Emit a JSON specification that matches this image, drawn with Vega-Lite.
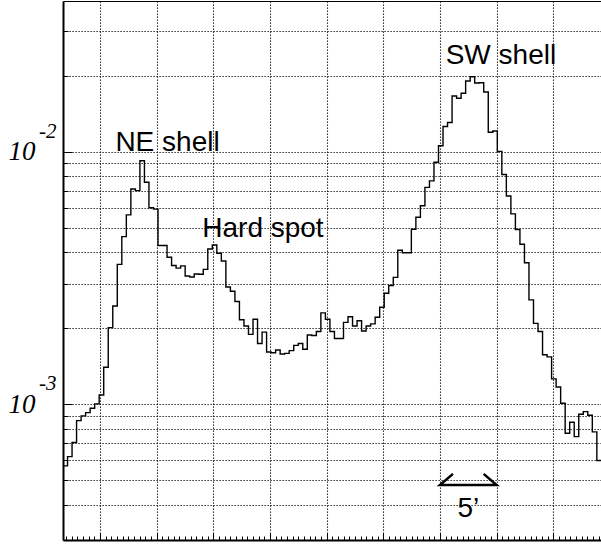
{
  "$schema": "https://vega.github.io/schema/vega-lite/v6.json",
  "width": 538,
  "height": 539,
  "autosize": {"type": "none"},
  "padding": {"left": 63, "top": 1, "right": 0, "bottom": 6},
  "background": "white",
  "config": {
    "view": {"stroke": "black", "strokeWidth": 1},
    "axis": {"gridColor": "black", "gridDash": [1.2, 1.8], "gridWidth": 1.1, "domainColor": "black", "domainWidth": 2, "tickColor": "black", "tickWidth": 1}
  },
  "datasets": {
    "hist": [
      {"bin": 0, "value": 0.00057}, {"bin": 1, "value": 0.00062}, {"bin": 2, "value": 0.000705}, {"bin": 3, "value": 0.000861},
      {"bin": 4, "value": 0.000899}, {"bin": 5, "value": 0.000926}, {"bin": 6, "value": 0.000964}, {"bin": 7, "value": 0.001003},
      {"bin": 8, "value": 0.001088}, {"bin": 9, "value": 0.001401}, {"bin": 10, "value": 0.002011}, {"bin": 11, "value": 0.00245},
      {"bin": 12, "value": 0.00358}, {"bin": 13, "value": 0.00461}, {"bin": 14, "value": 0.00562}, {"bin": 15, "value": 0.00712},
      {"bin": 16, "value": 0.00701}, {"bin": 17, "value": 0.00921}, {"bin": 18, "value": 0.00757}, {"bin": 19, "value": 0.006},
      {"bin": 20, "value": 0.00592}, {"bin": 21, "value": 0.00425}, {"bin": 22, "value": 0.00425}, {"bin": 23, "value": 0.00382},
      {"bin": 24, "value": 0.00354}, {"bin": 25, "value": 0.00346}, {"bin": 26, "value": 0.00353}, {"bin": 27, "value": 0.00322},
      {"bin": 28, "value": 0.00319}, {"bin": 29, "value": 0.00328}, {"bin": 30, "value": 0.00327}, {"bin": 31, "value": 0.00342},
      {"bin": 32, "value": 0.00412}, {"bin": 33, "value": 0.00427}, {"bin": 34, "value": 0.00396}, {"bin": 35, "value": 0.00369},
      {"bin": 36, "value": 0.00291}, {"bin": 37, "value": 0.0028}, {"bin": 38, "value": 0.00255}, {"bin": 39, "value": 0.00216},
      {"bin": 40, "value": 0.00204}, {"bin": 41, "value": 0.00189}, {"bin": 42, "value": 0.00217}, {"bin": 43, "value": 0.00174},
      {"bin": 44, "value": 0.00193}, {"bin": 45, "value": 0.00161}, {"bin": 46, "value": 0.0016}, {"bin": 47, "value": 0.00164},
      {"bin": 48, "value": 0.00158}, {"bin": 49, "value": 0.00159}, {"bin": 50, "value": 0.00163}, {"bin": 51, "value": 0.00171},
      {"bin": 52, "value": 0.00174}, {"bin": 53, "value": 0.00165}, {"bin": 54, "value": 0.00188}, {"bin": 55, "value": 0.00187},
      {"bin": 56, "value": 0.00194}, {"bin": 57, "value": 0.0023}, {"bin": 58, "value": 0.00217}, {"bin": 59, "value": 0.00194},
      {"bin": 60, "value": 0.00182}, {"bin": 61, "value": 0.00182}, {"bin": 62, "value": 0.00211}, {"bin": 63, "value": 0.00222},
      {"bin": 64, "value": 0.00204}, {"bin": 65, "value": 0.00214}, {"bin": 66, "value": 0.00195}, {"bin": 67, "value": 0.00204},
      {"bin": 68, "value": 0.00208}, {"bin": 69, "value": 0.00221}, {"bin": 70, "value": 0.00242}, {"bin": 71, "value": 0.00275},
      {"bin": 72, "value": 0.00295}, {"bin": 73, "value": 0.00318}, {"bin": 74, "value": 0.00407}, {"bin": 75, "value": 0.00398},
      {"bin": 76, "value": 0.00398}, {"bin": 77, "value": 0.00493}, {"bin": 78, "value": 0.0055}, {"bin": 79, "value": 0.00611},
      {"bin": 80, "value": 0.00722}, {"bin": 81, "value": 0.00766}, {"bin": 82, "value": 0.00908}, {"bin": 83, "value": 0.01056},
      {"bin": 84, "value": 0.01258}, {"bin": 85, "value": 0.01305}, {"bin": 86, "value": 0.01662}, {"bin": 87, "value": 0.01627},
      {"bin": 88, "value": 0.01703}, {"bin": 89, "value": 0.01905}, {"bin": 90, "value": 0.01981}, {"bin": 91, "value": 0.0187},
      {"bin": 92, "value": 0.01875}, {"bin": 93, "value": 0.01723}, {"bin": 94, "value": 0.01193}, {"bin": 95, "value": 0.01208},
      {"bin": 96, "value": 0.01003}, {"bin": 97, "value": 0.00812}, {"bin": 98, "value": 0.00668}, {"bin": 99, "value": 0.00567},
      {"bin": 100, "value": 0.00492}, {"bin": 101, "value": 0.0043}, {"bin": 102, "value": 0.00363}, {"bin": 103, "value": 0.00259},
      {"bin": 104, "value": 0.00209}, {"bin": 105, "value": 0.00194}, {"bin": 106, "value": 0.00157}, {"bin": 107, "value": 0.00154},
      {"bin": 108, "value": 0.00126}, {"bin": 109, "value": 0.00117}, {"bin": 110, "value": 0.001009}, {"bin": 111, "value": 0.000768},
      {"bin": 112, "value": 0.000849}, {"bin": 113, "value": 0.000744}, {"bin": 114, "value": 0.000913}, {"bin": 115, "value": 0.000935},
      {"bin": 116, "value": 0.000905}, {"bin": 117, "value": 0.000777}, {"bin": 118, "value": 0.000599}, {"bin": 119, "value": 0.000599}
    ],
    "bar": [
      {"bx": 86.2, "by": 0.00053, "o": 0},
      {"bx": 83.32, "by": 0.000479, "o": 1},
      {"bx": 95.85, "by": 0.000479, "o": 2},
      {"bx": 92.97, "by": 0.00053, "o": 3}
    ],
    "notes": [
      {"label": "NE shell", "nx": 23.1, "ny": 0.0101},
      {"label": "Hard spot", "nx": 44.2, "ny": 0.00461},
      {"label": "SW shell", "nx": 96.8, "ny": 0.02224},
      {"label": "5’", "nx": 89.6, "ny": 0.000359}
    ],
    "exps": [
      {"tick": 0.01, "exp": "-2"},
      {"tick": 0.001, "exp": "-3"}
    ]
  },
  "layer": [
    {
      "data": {"name": "hist"},
      "mark": {"type": "line", "interpolate": "step-after", "color": "black", "strokeWidth": 1.4, "clip": true},
      "encoding": {
        "x": {
          "field": "bin", "type": "quantitative",
          "scale": {"domain": [0, 118.92], "nice": false, "zero": false},
          "axis": {
            "title": null, "labels": false, "orient": "bottom", "tickCount": 500,
            "values": [0.67,1.92,3.17,4.42,5.68,6.93,8.18,9.43,10.68,11.94,13.19,14.44,15.69,16.95,18.2,19.45,20.7,21.96,23.21,24.46,25.71,26.97,28.22,29.47,30.72,31.98,33.23,34.48,35.73,36.99,38.24,39.49,40.74,42.0,43.25,44.5,45.75,47.0,48.26,49.51,50.76,52.01,53.27,54.52,55.77,57.02,58.28,59.53,60.78,62.03,63.29,64.54,65.79,67.04,68.3,69.55,70.8,72.05,73.3,74.56,75.81,77.06,78.31,79.57,80.82,82.07,83.32,84.58,85.83,87.08,88.33,89.59,90.84,92.09,93.34,94.6,95.85,97.1,98.35,99.61,100.86,102.11,103.36,104.62,105.87,107.12,108.37,109.62,110.88,112.13,113.38,114.63,115.89,117.14,118.39],
            "grid": true,
            "gridOpacity": {"condition": {"test": "indexof([8.18,20.7,33.23,45.75,58.28,70.8,83.32,95.85,108.37], datum.value) >= 0", "value": 1}, "value": 0},
            "tickSize": {"condition": {"test": "indexof([8.18,20.7,33.23,45.75,58.28,70.8,83.32,95.85,108.37], datum.value) >= 0", "value": -7}, "value": -4}
          }
        },
        "y": {
          "field": "value", "type": "quantitative",
          "scale": {"type": "log", "domain": [0.00029, 0.0395], "nice": false, "zero": false},
          "axis": {
            "title": null, "orient": "left", "tickCount": 500,
            "values": [0.0004,0.0005,0.0006,0.0007,0.0008,0.0009,0.001,0.002,0.003,0.004,0.005,0.006,0.007,0.008,0.009,0.01,0.02,0.03],
            "grid": true,
            "labelExpr": "datum.value == 0.01 || datum.value == 0.001 ? '10' : ''",
            "labelFont": "Liberation Serif", "labelFontStyle": "italic", "labelFontSize": 27, "labelColor": "black",
            "labelPadding": 37, "labelOverlap": false, "labelBound": false, "labelFlush": false,
            "labelAlign": "right", "labelBaseline": "middle",
            "tickSize": {"condition": {"test": "datum.value == 0.01 || datum.value == 0.001", "value": -9}, "value": -5}
          }
        }
      }
    },
    {
      "data": {"name": "bar"},
      "mark": {"type": "line", "color": "black", "strokeWidth": 2.5, "strokeCap": "butt"},
      "encoding": {
        "x": {"field": "bx", "type": "quantitative", "scale": {"domain": [0, 118.92], "nice": false, "zero": false}},
        "y": {"field": "by", "type": "quantitative", "scale": {"type": "log", "domain": [0.00029, 0.0395], "nice": false, "zero": false}},
        "order": {"field": "o", "type": "quantitative"}
      }
    },
    {
      "data": {"name": "notes"},
      "mark": {"type": "text", "font": "Liberation Sans", "fontSize": 28, "color": "black", "align": "center", "baseline": "alphabetic"},
      "encoding": {
        "x": {"field": "nx", "type": "quantitative", "scale": {"domain": [0, 118.92], "nice": false, "zero": false}},
        "y": {"field": "ny", "type": "quantitative", "scale": {"type": "log", "domain": [0.00029, 0.0395], "nice": false, "zero": false}},
        "text": {"field": "label"}
      }
    },
    {
      "data": {"name": "exps"},
      "mark": {"type": "text", "font": "Liberation Serif", "fontStyle": "italic", "fontSize": 21, "color": "black", "align": "left", "baseline": "alphabetic", "dx": -24, "dy": -14},
      "encoding": {
        "x": {"datum": 0, "type": "quantitative", "scale": {"domain": [0, 118.92], "nice": false, "zero": false}},
        "y": {"field": "tick", "type": "quantitative", "scale": {"type": "log", "domain": [0.00029, 0.0395], "nice": false, "zero": false}},
        "text": {"field": "exp"}
      }
    }
  ]
}
